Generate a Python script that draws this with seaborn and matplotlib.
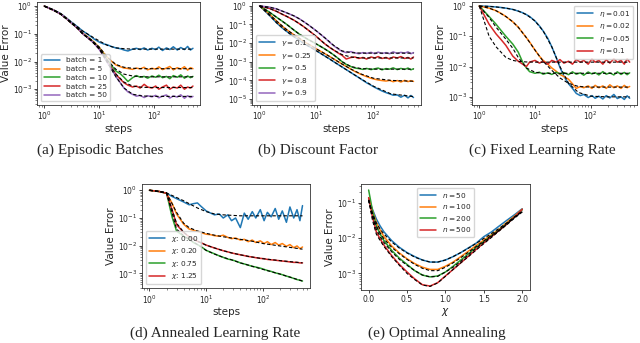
import matplotlib
matplotlib.use("Agg")
import matplotlib.pyplot as plt
import seaborn as sns
from matplotlib.ticker import LogLocator, NullFormatter

# ---------------------------------------------------------
# data
# ---------------------------------------------------------

STEPS = [1, 1.5, 2, 2.5, 3, 4, 5, 6, 7, 8, 10, 12,
         14, 17, 20, 24, 28, 33, 40, 47, 55, 65, 75, 90,
         105, 120, 140, 165, 190, 220, 260, 300, 350, 400, 450, 500]

FIT_STEPS = [1, 1.5, 2, 3, 4, 5, 7, 10, 14, 20, 28, 40, 60, 100, 200, 500]

CHI = [0.0, 0.05, 0.1, 0.15, 0.2, 0.3, 0.4, 0.5, 0.6, 0.7, 0.8, 0.9,
       1.0, 1.1, 1.2, 1.3, 1.4, 1.5, 1.6, 1.7, 1.8, 1.9, 2.0]

# (a) episodic batches
batch_labels = ["batch = 1", "batch = 5", "batch = 10", "batch = 25", "batch = 50"]
batch_runs = [
    [1.0, 0.72, 0.53, 0.38, 0.28, 0.18, 0.125, 0.1, 0.08, 0.065, 0.05, 0.043,
     0.04, 0.034, 0.031, 0.029, 0.026, 0.024, 0.028, 0.03, 0.027, 0.031, 0.026, 0.03,
     0.027, 0.033, 0.025, 0.031, 0.027, 0.034, 0.026, 0.032, 0.027, 0.035, 0.026, 0.03],
    [1.0, 0.7, 0.51, 0.36, 0.26, 0.16, 0.105, 0.08, 0.062, 0.05, 0.032, 0.02,
     0.014, 0.0098, 0.0075, 0.0065, 0.0058, 0.0056, 0.0052, 0.0058, 0.0054, 0.0062, 0.005, 0.0057,
     0.0053, 0.0064, 0.0051, 0.0058, 0.0066, 0.005, 0.006, 0.0053, 0.0065, 0.0049, 0.006, 0.0055],
    [1.0, 0.7, 0.51, 0.36, 0.26, 0.16, 0.1, 0.077, 0.06, 0.048, 0.03, 0.018,
     0.011, 0.0068, 0.0045, 0.0036, 0.0027, 0.0019, 0.0026, 0.0031, 0.0027, 0.0029, 0.0025, 0.003,
     0.0027, 0.0032, 0.0026, 0.0029, 0.0024, 0.0031, 0.0027, 0.0033, 0.0025, 0.003, 0.0026, 0.0029],
    [1.0, 0.7, 0.51, 0.36, 0.26, 0.16, 0.1, 0.075, 0.058, 0.046, 0.028, 0.016,
     0.0095, 0.0055, 0.0034, 0.0023, 0.0017, 0.0014, 0.0012, 0.0013, 0.0011, 0.0015, 0.0012, 0.0011,
     0.0013, 0.001, 0.0012, 0.0014, 0.001, 0.0012, 0.0011, 0.0014, 0.001, 0.0012, 0.0011, 0.0013],
    [1.0, 0.7, 0.51, 0.36, 0.26, 0.16, 0.1, 0.075, 0.058, 0.046, 0.027, 0.015,
     0.009, 0.005, 0.0028, 0.0017, 0.0011, 0.0008, 0.00065, 0.00056, 0.0006, 0.0005, 0.00058, 0.00053,
     0.0006, 0.00049, 0.00056, 0.00062, 0.00048, 0.00057, 0.00052, 0.00063, 0.00047, 0.00058, 0.0005, 0.00055],
]
batch_fits = [
    [1.0, 0.72, 0.53, 0.28, 0.18, 0.125, 0.083, 0.055, 0.038, 0.031, 0.029, 0.028, 0.028, 0.028, 0.028, 0.028],
    [1.0, 0.7, 0.51, 0.26, 0.16, 0.1, 0.062, 0.033, 0.014, 0.0078, 0.0062, 0.0057, 0.0055, 0.0055, 0.0055, 0.0055],
    [1.0, 0.7, 0.51, 0.26, 0.16, 0.1, 0.06, 0.03, 0.011, 0.0052, 0.0035, 0.003, 0.0028, 0.0028, 0.0028, 0.0028],
    [1.0, 0.7, 0.51, 0.26, 0.16, 0.1, 0.058, 0.029, 0.0098, 0.0035, 0.0018, 0.0013, 0.00117, 0.00115, 0.00115, 0.00115],
    [1.0, 0.7, 0.51, 0.26, 0.16, 0.1, 0.058, 0.028, 0.009, 0.0028, 0.0011, 0.00066, 0.00057, 0.00055, 0.00055, 0.00055],
]

# (b) discount factor
gamma_labels = [r"$\gamma = 0.1$", r"$\gamma = 0.25$", r"$\gamma = 0.5$", r"$\gamma = 0.8$", r"$\gamma = 0.9$"]
gamma_runs = [
    [1.0, 0.3, 0.12, 0.065, 0.042, 0.022, 0.014, 0.0095, 0.0072, 0.0058, 0.0038, 0.0027,
     0.002, 0.0014, 0.001, 0.0007, 0.00052, 0.00038, 0.00026, 0.00019, 0.00014, 0.0001, 0.000075, 0.000055,
     0.000042, 0.000034, 0.000027, 0.000022, 0.000019, 0.000016, 0.0000165, 0.0000125, 0.000016, 0.0000115, 0.0000155, 0.000012],
    [1.0, 0.35, 0.15, 0.08, 0.052, 0.028, 0.018, 0.012, 0.0092, 0.0073, 0.0048, 0.0035,
     0.0027, 0.0019, 0.0014, 0.001, 0.00075, 0.00056, 0.0004, 0.0003, 0.00024, 0.00019, 0.00016, 0.00013,
     0.000115, 0.000105, 0.000098, 0.000092, 0.0001, 0.000085, 0.000098, 0.000082, 0.0001, 0.000086, 0.000097, 0.000088],
    [1.0, 0.45, 0.24, 0.15, 0.1, 0.05, 0.03, 0.021, 0.016, 0.013, 0.0088, 0.0064,
     0.0048, 0.0033, 0.0023, 0.0015, 0.001, 0.00072, 0.00055, 0.00046, 0.00043, 0.00039, 0.00044, 0.00038,
     0.00042, 0.00046, 0.00037, 0.00043, 0.0004, 0.00047, 0.00038, 0.00044, 0.00039, 0.00046, 0.00037, 0.00042],
    [1.0, 0.72, 0.5, 0.35, 0.27, 0.17, 0.11, 0.075, 0.052, 0.038, 0.022, 0.0135,
     0.009, 0.0058, 0.0042, 0.0029, 0.0022, 0.0014, 0.0017, 0.0018, 0.0015, 0.0017, 0.0014, 0.0018,
     0.0016, 0.0019, 0.0015, 0.0017, 0.0014, 0.0018, 0.0016, 0.0019, 0.0015, 0.0017, 0.0014, 0.0018],
    [1.0, 0.85, 0.68, 0.52, 0.42, 0.29, 0.2, 0.14, 0.1, 0.075, 0.044, 0.028,
     0.019, 0.011, 0.0072, 0.0048, 0.0036, 0.0031, 0.0035, 0.003, 0.0027, 0.0031, 0.0028, 0.0032,
     0.0027, 0.0033, 0.0028, 0.0031, 0.0027, 0.0034, 0.0028, 0.0032, 0.0029, 0.0034, 0.0027, 0.0031],
]
gamma_fits = [
    [1.0, 0.3, 0.12, 0.042, 0.022, 0.014, 0.0072, 0.0038, 0.002, 0.001, 0.00052, 0.00026, 0.00012, 0.000048, 0.000019, 0.0000135],
    [1.0, 0.35, 0.15, 0.052, 0.028, 0.018, 0.0092, 0.0048, 0.0027, 0.0014, 0.00075, 0.0004, 0.00022, 0.00013, 0.0001, 0.00009],
    [1.0, 0.45, 0.24, 0.1, 0.05, 0.03, 0.016, 0.0088, 0.0048, 0.0023, 0.001, 0.00055, 0.00043, 0.0004, 0.0004, 0.0004],
    [1.0, 0.72, 0.5, 0.27, 0.17, 0.11, 0.052, 0.022, 0.009, 0.0042, 0.0024, 0.0018, 0.0016, 0.0016, 0.0016, 0.0016],
    [1.0, 0.85, 0.68, 0.42, 0.29, 0.2, 0.1, 0.044, 0.019, 0.0075, 0.0038, 0.0031, 0.0029, 0.0029, 0.0029, 0.0029],
]

# (c) fixed learning rate
eta_labels = [r"$\eta = 0.01$", r"$\eta = 0.02$", r"$\eta = 0.05$", r"$\eta = 0.1$"]
eta_runs = [
    [1.0, 0.97, 0.93, 0.89, 0.85, 0.77, 0.68, 0.6, 0.52, 0.45, 0.32, 0.22,
     0.15, 0.085, 0.045, 0.02, 0.0095, 0.0048, 0.0027, 0.0019, 0.0013, 0.0011, 0.0012, 0.00095,
     0.0011, 0.0009, 0.00105, 0.00085, 0.0011, 0.00092, 0.0012, 0.00088, 0.001, 0.00082, 0.00108, 0.0009],
    [1.0, 0.85, 0.7, 0.56, 0.45, 0.3, 0.2, 0.13, 0.09, 0.065, 0.035, 0.022,
     0.016, 0.012, 0.009, 0.007, 0.0055, 0.0047, 0.0038, 0.0027, 0.0019, 0.0022, 0.002, 0.0023,
     0.0019, 0.0024, 0.002, 0.0023, 0.0019, 0.0025, 0.002, 0.0023, 0.0019, 0.0024, 0.002, 0.0022],
    [1.0, 0.45, 0.25, 0.15, 0.1, 0.055, 0.03, 0.014, 0.009, 0.0068, 0.006, 0.0065,
     0.0056, 0.0062, 0.0055, 0.0065, 0.0057, 0.0063, 0.0054, 0.0067, 0.0056, 0.0062, 0.0052, 0.0066,
     0.0057, 0.0063, 0.0053, 0.0068, 0.0056, 0.0062, 0.0053, 0.0067, 0.0055, 0.0064, 0.0054, 0.0062],
    [1.0, 0.25, 0.12, 0.075, 0.05, 0.022, 0.015, 0.012, 0.01, 0.014, 0.016, 0.013,
     0.015, 0.012, 0.016, 0.014, 0.017, 0.013, 0.015, 0.012, 0.017, 0.014, 0.016, 0.012,
     0.018, 0.014, 0.016, 0.012, 0.017, 0.013, 0.018, 0.014, 0.016, 0.012, 0.018, 0.014],
]
eta_fits = [
    [1.0, 0.97, 0.93, 0.85, 0.77, 0.68, 0.52, 0.32, 0.15, 0.045, 0.01, 0.0028, 0.0014, 0.00105, 0.001, 0.001],
    [1.0, 0.85, 0.7, 0.45, 0.3, 0.2, 0.09, 0.035, 0.015, 0.0075, 0.0042, 0.0028, 0.0022, 0.0021, 0.0021, 0.0021],
    [1.0, 0.42, 0.2, 0.08, 0.04, 0.02, 0.009, 0.0065, 0.006, 0.006, 0.006, 0.006, 0.006, 0.006, 0.006, 0.006],
    [1.0, 0.1, 0.045, 0.02, 0.016, 0.0148, 0.0142, 0.014, 0.014, 0.014, 0.014, 0.014, 0.014, 0.014, 0.014, 0.014],
]

# (d) annealed learning rate
anneal_labels = [r"$\chi$: 0.00", r"$\chi$: 0.20", r"$\chi$: 0.75", r"$\chi$: 1.25"]
anneal_runs = [
    [1.0, 0.9, 0.78, 0.6, 0.5, 0.38, 0.3, 0.33, 0.35, 0.27, 0.18, 0.15,
     0.13, 0.14, 0.1, 0.13, 0.08, 0.1, 0.045, 0.15, 0.09, 0.17, 0.1, 0.2,
     0.08, 0.16, 0.11, 0.22, 0.09, 0.18, 0.07, 0.25, 0.1, 0.2, 0.08, 0.28],
    [1.0, 0.9, 0.78, 0.34, 0.14, 0.06, 0.04, 0.036, 0.033, 0.03, 0.026, 0.025,
     0.023, 0.022, 0.024, 0.02, 0.018, 0.019, 0.016, 0.017, 0.014, 0.016, 0.013, 0.015,
     0.012, 0.014, 0.011, 0.013, 0.0105, 0.012, 0.0095, 0.011, 0.0085, 0.0098, 0.0078, 0.009],
    [1.0, 0.9, 0.78, 0.11, 0.034, 0.022, 0.017, 0.013, 0.011, 0.0095, 0.0068, 0.0058,
     0.0051, 0.0043, 0.0038, 0.0033, 0.0031, 0.0028, 0.0024, 0.0022, 0.002, 0.0018, 0.0017, 0.00155,
     0.0014, 0.00128, 0.00118, 0.00105, 0.00098, 0.0009, 0.0008, 0.00074, 0.00066, 0.0006, 0.00057, 0.00053],
    [1.0, 0.9, 0.78, 0.2, 0.058, 0.03, 0.021, 0.017, 0.0145, 0.013, 0.0105, 0.0092,
     0.0083, 0.0073, 0.0066, 0.006, 0.0055, 0.0051, 0.0047, 0.0044, 0.0041, 0.0039, 0.0037, 0.0035,
     0.0034, 0.0032, 0.0031, 0.003, 0.0029, 0.0028, 0.0027, 0.0026, 0.0025, 0.0025, 0.0024, 0.0024],
]
anneal_fits = [
    [1.0, 0.9, 0.8, 0.55, 0.42, 0.33, 0.23, 0.17, 0.14, 0.13, 0.125, 0.12, 0.12, 0.12, 0.12, 0.12],
    [1.0, 0.9, 0.8, 0.16, 0.065, 0.045, 0.034, 0.028, 0.024, 0.021, 0.019, 0.017, 0.015, 0.012, 0.0098, 0.0075],
    [1.0, 0.9, 0.8, 0.04, 0.023, 0.017, 0.011, 0.0068, 0.005, 0.0038, 0.0031, 0.0024, 0.0019, 0.0014, 0.00095, 0.00053],
    [1.0, 0.9, 0.8, 0.065, 0.031, 0.021, 0.0145, 0.0105, 0.0083, 0.0066, 0.0055, 0.0047, 0.004, 0.0034, 0.0029, 0.0024],
]

# (e) optimal annealing
n_labels = [r"$n = 50$", r"$n = 100$", r"$n = 200$", r"$n = 500$"]
n_runs = [
    [0.13, 0.065, 0.035, 0.022, 0.015, 0.0085, 0.0055, 0.0039, 0.003, 0.0024, 0.0021, 0.0021,
     0.0024, 0.003, 0.0039, 0.0053, 0.0072, 0.011, 0.015, 0.022, 0.032, 0.046, 0.068],
    [0.14, 0.06, 0.028, 0.017, 0.011, 0.006, 0.0038, 0.0026, 0.0019, 0.0015, 0.0013, 0.0013,
     0.0016, 0.0021, 0.003, 0.0043, 0.0062, 0.0088, 0.0125, 0.018, 0.028, 0.042, 0.066],
    [0.23, 0.06, 0.022, 0.013, 0.0085, 0.0045, 0.0027, 0.0018, 0.0012, 0.0009, 0.0008, 0.00085,
     0.0011, 0.0016, 0.0024, 0.0036, 0.0055, 0.008, 0.0117, 0.017, 0.026, 0.04, 0.064],
    [0.14, 0.04, 0.015, 0.0095, 0.0063, 0.0032, 0.0018, 0.0011, 0.0007, 0.00048, 0.00044, 0.00055,
     0.00085, 0.0013, 0.002, 0.0031, 0.0048, 0.0073, 0.011, 0.0165, 0.025, 0.04, 0.065],
]
n_fits = [
    [0.12, 0.05, 0.027, 0.018, 0.013, 0.0078, 0.0052, 0.0038, 0.0029, 0.0024, 0.0021, 0.0021,
     0.0024, 0.003, 0.0039, 0.0052, 0.0071, 0.0098, 0.0135, 0.019, 0.027, 0.04, 0.058],
    [0.12, 0.045, 0.022, 0.014, 0.0095, 0.0055, 0.0036, 0.0025, 0.0018, 0.0014, 0.0012, 0.0012,
     0.0015, 0.002, 0.0028, 0.004, 0.0058, 0.0083, 0.012, 0.017, 0.026, 0.039, 0.057],
    [0.12, 0.04, 0.018, 0.011, 0.0075, 0.0041, 0.0025, 0.0017, 0.0012, 0.0009, 0.0008, 0.00083,
     0.0011, 0.0015, 0.0022, 0.0034, 0.0052, 0.0077, 0.0113, 0.0165, 0.025, 0.038, 0.056],
    [0.12, 0.032, 0.013, 0.0085, 0.0058, 0.003, 0.0017, 0.001, 0.00067, 0.00047, 0.00043, 0.00054,
     0.00083, 0.0013, 0.002, 0.003, 0.0046, 0.007, 0.0105, 0.016, 0.024, 0.037, 0.055],
]

COLORS = ["#1f77b4", "#ff7f0e", "#2ca02c", "#d62728", "#9467bd"]

# ---------------------------------------------------------
# style
# ---------------------------------------------------------

sns.set_style("ticks")
plt.rcParams["font.family"] = ["DejaVu Sans"]
plt.rcParams["axes.linewidth"] = 0.6
plt.rcParams["axes.edgecolor"] = "#333333"


def draw_panel(ax, x, runs, x_fit, fits, labels, xlabel, ylim, xlim,
               legend_loc, logx=True):

    if logx:
        ax.set_xscale("log")
    ax.set_yscale("log")

    handles = []
    for run, color, lab in zip(runs, COLORS, labels):
        sns.lineplot(x=x, y=run, ax=ax, color=color, lw=1.1, label=lab)
        handles.append(ax.lines[-1])

    for fit in fits:
        sns.lineplot(x=x_fit, y=fit, ax=ax, color="black", lw=0.8,
                     linestyle=(0, (3, 2)))

    ax.set_xlim(*xlim)
    ax.set_ylim(*ylim)

    ax.yaxis.set_major_locator(LogLocator(base=10, numticks=12))
    ax.yaxis.set_minor_locator(LogLocator(base=10, subs=range(2, 10), numticks=12))
    ax.yaxis.set_minor_formatter(NullFormatter())
    if logx:
        ax.xaxis.set_major_locator(LogLocator(base=10, numticks=12))
        ax.xaxis.set_minor_locator(LogLocator(base=10, subs=range(2, 10), numticks=12))
        ax.xaxis.set_minor_formatter(NullFormatter())

    ax.tick_params(which="major", labelsize=5.5, length=2.5, width=0.6, pad=1.2)
    ax.tick_params(which="minor", length=1.5, width=0.4)

    ax.set_xlabel(xlabel, fontsize=7.5, labelpad=1)
    ax.set_ylabel("Value Error", fontsize=7.5, labelpad=1)

    ax.legend(handles=handles, labels=labels, loc=legend_loc, fontsize=5.3,
              handlelength=2.2, labelspacing=0.35, borderpad=0.4,
              handletextpad=0.8, frameon=True)


fig = plt.figure(figsize=(6.4, 3.43), dpi=100)

step_lim = (0.74, 680)

ax_a = fig.add_axes([0.058, 0.694, 0.255, 0.300])
draw_panel(ax_a, STEPS, batch_runs, FIT_STEPS, batch_fits, batch_labels,
           "steps", (2.7e-4, 1.4), step_lim, "lower left")

ax_b = fig.add_axes([0.394, 0.694, 0.264, 0.300])
draw_panel(ax_b, STEPS, gamma_runs, FIT_STEPS, gamma_fits, gamma_labels,
           "steps", (4.8e-6, 1.6), step_lim, "lower left")

ax_c = fig.add_axes([0.7375, 0.694, 0.258, 0.300])
draw_panel(ax_c, STEPS, eta_runs, FIT_STEPS, eta_fits, eta_labels,
           "steps", (5.4e-4, 1.35), step_lim, "upper right")

ax_d = fig.add_axes([0.222, 0.160, 0.2625, 0.303])
draw_panel(ax_d, STEPS, anneal_runs, FIT_STEPS, anneal_fits, anneal_labels,
           "steps", (2.95e-4, 1.66), step_lim, "lower left")

ax_e = fig.add_axes([0.564, 0.1545, 0.264, 0.309])
draw_panel(ax_e, CHI, n_runs, CHI, n_fits, n_labels,
           r"$\chi$", (3.4e-4, 0.34), (-0.1, 2.1), "upper center", logx=False)

# ---------------------------------------------------------
# captions
# ---------------------------------------------------------

captions = [
    (100 / 640, "(a) Episodic Batches"),
    (318 / 640, "(b) Discount Factor"),
    (542 / 640, "(c) Fixed Learning Rate"),
]
for cx, text in captions:
    fig.text(cx, 1 - 150 / 343, text, ha="center", va="center",
             family="Liberation Serif", fontsize=11)

fig.text(215 / 640, 1 - 333 / 343, "(d) Annealed Learning Rate", ha="center",
         va="center", family="Liberation Serif", fontsize=11)
fig.text(437 / 640, 1 - 333 / 343, "(e) Optimal Annealing", ha="center",
         va="center", family="Liberation Serif", fontsize=11)

fig.savefig("out.png", dpi=100)
